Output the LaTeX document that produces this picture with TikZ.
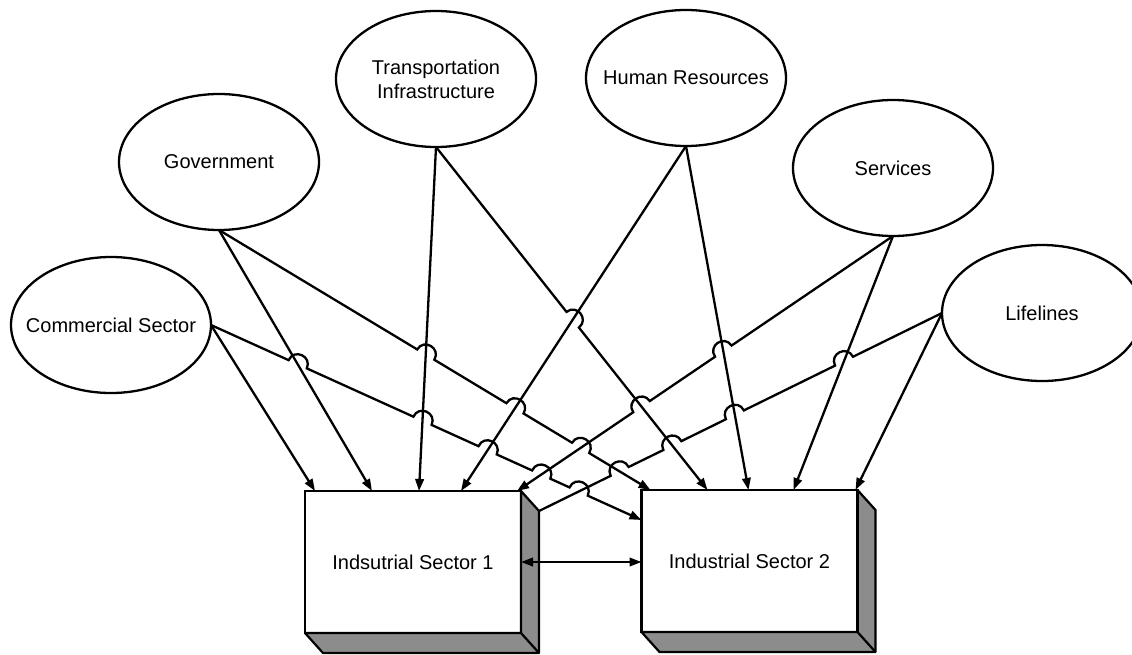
\documentclass[tikz,border=0pt]{standalone}
\usepackage{fontspec}
\setmainfont{Liberation Sans}
\usetikzlibrary{calc,shapes.geometric,arrows.meta}

% line jumps: radius and Bezier handle length of a semicircular hop
\newcommand\hopr{10pt}
\newcommand\hopk{13.33pt}
% #1 jump name, #2 start of hopping line, #3 end of hopping line, #4 crossed line
\newcommand\makejump[4]{%
  \coordinate (#1) at (intersection of #2--#3 and #4);
  \coordinate (#1a) at ($(#1)!\hopr!(#2)$);
  \coordinate (#1b) at ($(#1)!\hopr!(#3)$);
  \coordinate (#1p) at ($(#1a)!\hopk!90:(#1)$);
  \coordinate (#1q) at ($(#1b)!\hopk!-90:(#1)$);
}
\newcommand\jumpat[1]{-- (#1a) .. controls (#1p) and (#1q) .. (#1b)}

\begin{document}
\begin{tikzpicture}[x=1pt,y=-1pt,
  labelfont/.style={font=\fontsize{20}{24}\selectfont},
  factor/.style={ellipse, draw, line width=2.3pt, fill=white, minimum width=200pt,
    minimum height=136pt, inner sep=0pt, outer sep=0pt,
    label={[labelfont,align=center]center:#1}},
  sector/.style={rectangle, draw, line width=2.5pt, fill=white, minimum width=216pt,
    minimum height=142pt, inner sep=0pt, outer sep=0pt, labelfont},
  panel/.style={draw, line width=2.2pt, fill=black!45, line join=round},
  tip/.tip={Triangle[length=12pt,width=8.5pt]},
  link/.style={line width=2.3pt, -tip},
  linkback/.style={line width=2.3pt, tip-},
  plainlink/.style={line width=2.3pt},
  both/.style={line width=2.3pt, tip-tip}]

\fill[white] (0,0) rectangle (1132,654);
\useasboundingbox (0,0) rectangle (1132,654);

% influencing factors (fixed-size ellipses, centred labels)
\node[factor={Commercial Sector}] (com) at (111,325) {};
\node[factor={Government}] (gov) at (219,162) {};
\node[factor={Transportation\\Infrastructure}] (tra) at (436,79) {};
\node[factor={Human Resources}] (hum) at (686,78) {};
\node[factor={Services}] (ser) at (893,168) {};
\node[factor={Lifelines}] (lif) at (1042,313) {};

% industrial sectors as raised boxes
\node[sector] (b1) at (413,562) {Indsutrial Sector 1};
\node[sector] (b2) at (749.5,561) {Industrial Sector 2};
\foreach \b in {b1,b2}{
  \draw[panel] (\b.north east) -- ++(18,20) -- ($(\b.south east)+(18,20)$)
    -- ($(\b.south west)+(18,20)$) -- (\b.south west) -- (\b.south east) -- cycle;
  \draw[line width=2.2pt] (\b.south east) -- ++(18,20);
  \draw[line width=2.5pt] (\b.north west) rectangle (\b.south east);
}

% connector end points
\coordinate (cR) at (com.east);
\coordinate (gS) at (gov.south);
\coordinate (tS) at (tra.south);
\coordinate (hS) at (hum.south);
\coordinate (sS) at (ser.south);
\coordinate (lW) at (lif.west);
\coordinate (b1c) at ($(b1.north west)+(10,0)$);
\coordinate (b1g) at ($(b1.north west)+(67,0)$);
\coordinate (b1t) at ($(b1.north west)+(114,0)$);
\coordinate (b1h) at ($(b1.north west)+(156,0)$);
\coordinate (b1s) at ($(b1.north west)+(212,0)$);
\coordinate (b1l) at ($(b1.north east)+(18,20)$);
\coordinate (b2c) at ($(b2.north west)+(0,30)$);
\coordinate (b2g) at ($(b2.north west)+(9,0)$);
\coordinate (b2t) at ($(b2.north west)+(66,0)$);
\coordinate (b2h) at ($(b2.north west)+(107,0)$);
\coordinate (b2s) at ($(b2.north west)+(152,0)$);
\coordinate (b2l) at ($(b2.north west)+(214,0)$);

% jumps where connectors cross
\makejump{jca}{cR}{b2c}{gS--b1g}
\makejump{jcb}{cR}{b2c}{tS--b1t}
\makejump{jcc}{cR}{b2c}{hS--b1h}
\makejump{jcd}{cR}{b2c}{b1s--sS}
\makejump{jce}{cR}{b2c}{b1l--lW}
\makejump{jga}{gS}{b2g}{tS--b1t}
\makejump{jgb}{gS}{b2g}{hS--b1h}
\makejump{jgc}{gS}{b2g}{b1s--sS}
\makejump{jta}{tS}{b2t}{hS--b1h}
\makejump{jsa}{b1s}{sS}{tS--b2t}
\makejump{jsb}{b1s}{sS}{hS--b2h}
\makejump{jla}{b1l}{lW}{gS--b2g}
\makejump{jlb}{b1l}{lW}{tS--b2t}
\makejump{jlc}{b1l}{lW}{hS--b2h}
\makejump{jld}{b1l}{lW}{sS--b2s}

% connectors
\draw[link] (cR) -- (b1c);
\draw[link] (cR) \jumpat{jca} \jumpat{jcb} \jumpat{jcc} \jumpat{jcd} \jumpat{jce} -- (b2c);
\draw[link] (gS) -- (b1g);
\draw[link] (gS) \jumpat{jga} \jumpat{jgb} \jumpat{jgc} -- (b2g);
\draw[link] (tS) -- (b1t);
\draw[link] (tS) \jumpat{jta} -- (b2t);
\draw[link] (hS) -- (b1h);
\draw[link] (hS) -- (b2h);
\draw[linkback] (b1s) \jumpat{jsa} \jumpat{jsb} -- (sS);
\draw[link] (sS) -- (b2s);
\draw[plainlink] (b1l) \jumpat{jla} \jumpat{jlb} \jumpat{jlc} \jumpat{jld} -- (lW);
\draw[link] (lW) -- (b2l);
\draw[both] (b1.east) -- (b1.east -| b2.west);

\end{tikzpicture}
\end{document}
